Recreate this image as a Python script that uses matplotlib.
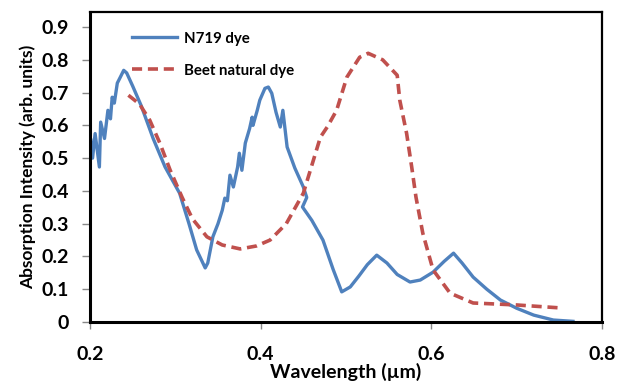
import matplotlib
matplotlib.use("Agg")
import matplotlib.pyplot as plt

# N719 dye absorption (wavelength um, intensity)
n719_wl = [0.2000, 0.2006, 0.2030, 0.2060, 0.2110, 0.2125, 0.2170, 0.2210, 0.2240,
           0.2260, 0.2285, 0.2320, 0.2355, 0.2395, 0.2430, 0.250, 0.260, 0.274,
           0.288, 0.305, 0.316, 0.325, 0.335, 0.338, 0.344, 0.350, 0.355, 0.358,
           0.361, 0.364, 0.368, 0.373, 0.375, 0.378, 0.382, 0.387, 0.390, 0.391,
           0.396, 0.399, 0.405, 0.409, 0.413, 0.418, 0.423, 0.426, 0.431, 0.440,
           0.450, 0.454, 0.449, 0.460, 0.473, 0.485, 0.495, 0.505, 0.515, 0.525,
           0.536, 0.548, 0.560, 0.575, 0.587, 0.602, 0.615, 0.626, 0.636, 0.649,
           0.665, 0.681, 0.700, 0.720, 0.743, 0.766]
n719_abs = [0.465, 0.560, 0.500, 0.575, 0.473, 0.610, 0.560, 0.646, 0.620,
            0.686, 0.668, 0.729, 0.747, 0.768, 0.760, 0.720, 0.660, 0.560,
            0.473, 0.393, 0.300, 0.220, 0.165, 0.180, 0.260, 0.300, 0.341, 0.378,
            0.370, 0.448, 0.412, 0.473, 0.515, 0.463, 0.546, 0.590, 0.625, 0.600,
            0.646, 0.677, 0.713, 0.717, 0.698, 0.640, 0.595, 0.646, 0.534, 0.470,
            0.412, 0.380, 0.351, 0.310, 0.250, 0.160, 0.092, 0.107, 0.140, 0.175,
            0.204, 0.180, 0.145, 0.122, 0.128, 0.152, 0.185, 0.210, 0.180, 0.137,
            0.100, 0.067, 0.042, 0.021, 0.006, 0.002]

# Beet natural dye absorption
beet_wl = [0.245, 0.258, 0.270, 0.282, 0.294, 0.308, 0.320, 0.337, 0.355, 0.376,
           0.395, 0.411, 0.430, 0.450, 0.470, 0.478, 0.489, 0.501, 0.516, 0.526,
           0.543, 0.560, 0.563, 0.571, 0.577, 0.582, 0.590, 0.602, 0.622, 0.649,
           0.700, 0.751]
beet_abs = [0.692, 0.665, 0.616, 0.545, 0.463, 0.380, 0.315, 0.260, 0.235, 0.223,
            0.232, 0.250, 0.300, 0.393, 0.564, 0.595, 0.646, 0.747, 0.808, 0.820,
            0.800, 0.753, 0.677, 0.576, 0.473, 0.381, 0.271, 0.159, 0.088, 0.058,
            0.052, 0.043]

x_ticks = [0.2, 0.4, 0.6, 0.8]
y_ticks = [0, 0.1, 0.2, 0.3, 0.4, 0.5, 0.6, 0.7, 0.8, 0.9]

plt.rcParams["font.family"] = ["Lato", "DejaVu Sans"]
plt.rcParams["font.weight"] = "bold"

fig = plt.figure(figsize=(6.2, 3.83), dpi=100)
ax = fig.add_axes([90/620, 1 - 322/383, 512/620, 310/383])

ax.plot(n719_wl, n719_abs, color="#4F81BD", lw=2.4, label="N719 dye")
ax.plot(beet_wl, beet_abs, color="#C0504D", lw=2.6, ls=(0, (2.8, 1.6)),
        label="Beet natural dye")

ax.set_xlim(0.2, 0.8)
ax.set_ylim(0, 0.946)
ax.set_xticks(x_ticks)
ax.set_xticklabels(["0.2", "0.4", "0.6", "0.8"])
ax.set_yticks(y_ticks)
ax.set_yticklabels(["0", "0.1", "0.2", "0.3", "0.4", "0.5", "0.6", "0.7", "0.8", "0.9"])
ax.tick_params(axis="x", direction="out", length=5, width=1, color="#888888",
               labelsize=14, pad=12)
ax.tick_params(axis="y", direction="out", length=6, width=1, color="#888888",
               labelsize=14, pad=9)
for lab in ax.get_xticklabels() + ax.get_yticklabels():
    lab.set_fontweight("bold")

for side in ["left", "bottom"]:
    ax.spines[side].set_linewidth(2.2)
for side in ["top", "right"]:
    ax.spines[side].set_linewidth(1.6)
for s in ax.spines.values():
    s.set_color("black")

ax.set_xlabel("Wavelength (\u00b5m)", fontsize=14, fontweight="bold", labelpad=0)
ax.set_ylabel("Absorption Intensity (arb. units)", fontsize=12.5, fontweight="bold",
              labelpad=4)

ax.legend(loc="upper left", bbox_to_anchor=(0.082, 0.937), frameon=False,
          borderpad=0, borderaxespad=0, handlelength=3.0, handletextpad=0.5,
          labelspacing=1.2, prop={"size": 10.8, "weight": "bold"})

fig.savefig("out.png", dpi=100)
